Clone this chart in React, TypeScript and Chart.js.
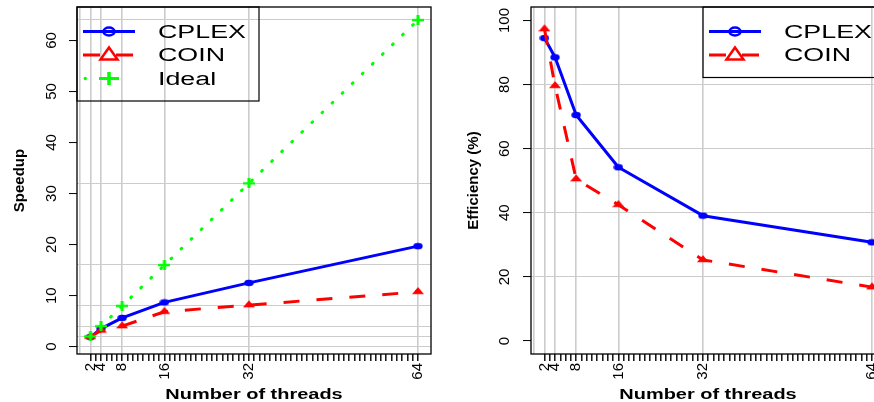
import React, { useEffect, useRef } from 'react';
import { Chart, registerables } from 'chart.js';

Chart.register(...registerables);

const FONT = "'Liberation Sans', Arial, Helvetica, sans-serif";
const BLUE = '#0000ff';
const RED = '#ff0000';
const GREEN = '#00ff00';
const GRID = '#cccccc';
const NONE = 'rgba(0,0,0,0)';

// ---- data ----
const threads = [2, 4, 8, 16, 32, 64];
const cplexSpeedup = [1.89, 3.54, 5.64, 8.68, 12.5, 19.7];
const coinSpeedup = [1.95, 3.18, 4.04, 6.85, 8.15, 10.75];
const idealSpeedup = [2, 4, 8, 16, 32, 64];
const cplexEfficiency = [94.5, 88.5, 70.5, 54.2, 39.1, 30.8];
const coinEfficiency = [97.3, 79.6, 50.5, 42.5, 25.3, 16.8];

// ---- axes ----
const xTickLabels = [2, 4, 8, 16, 32, 64];
const xMinorTicks = Array.from({ length: 63 }, (_, i) => i + 2);
const xGridLines = [0, 2, 4, 8, 16, 32, 64];
const speedupTickLabels = [0, 10, 20, 30, 40, 50, 60];
const speedupGridLines = [0, 2, 4, 8, 16, 32, 64];
const efficiencyTickLabels = [0, 20, 40, 60, 80, 100];
const efficiencyGridLines = [20, 40, 60, 80];
const seriesNames = ['CPLEX', 'COIN', 'Ideal'];

function toPoints(xs: number[], ys: number[]) {
  return xs.map((x, i) => ({ x, y: ys[i] }));
}

function uniqSorted(arrs: number[][]) {
  return Array.from(new Set(arrs.flat())).sort((a, b) => a - b);
}

function makeMarker(w: number, h: number, draw: (ctx: CanvasRenderingContext2D) => void) {
  const c = document.createElement('canvas');
  c.width = w;
  c.height = h;
  const ctx = c.getContext('2d') as CanvasRenderingContext2D;
  draw(ctx);
  return c;
}

function drawLegend(ctx: any, area: any, items: any[], anchor: string) {
  const W = 182;
  const ROW = 23.5;
  const h = (items.length + 1) * ROW;
  const left = anchor === 'left' ? area.left : area.right - W;
  const top = area.top;
  ctx.save();
  ctx.lineWidth = 1.2;
  ctx.strokeStyle = '#000';
  ctx.strokeRect(left, top, W, h);
  items.forEach((it: any, i: number) => {
    const y = top + 24.5 + ROW * i;
    const x0 = left + 6;
    const x1 = left + 58;
    const xm = left + 32;
    ctx.save();
    ctx.strokeStyle = it.color;
    ctx.fillStyle = it.color;
    ctx.lineWidth = 3;
    if (it.kind === 'circle') {
      ctx.beginPath();
      ctx.moveTo(x0, y);
      ctx.lineTo(x1, y);
      ctx.stroke();
      ctx.lineWidth = 2.5;
      ctx.beginPath();
      ctx.ellipse(xm, y, 5.5, 3.9, 0, 0, Math.PI * 2);
      ctx.stroke();
    } else if (it.kind === 'triangle') {
      ctx.setLineDash([17, 16]);
      ctx.beginPath();
      ctx.moveTo(x0, y);
      ctx.lineTo(x1, y);
      ctx.stroke();
      ctx.setLineDash([]);
      ctx.lineWidth = 2.5;
      ctx.beginPath();
      ctx.moveTo(xm, y - 7.5);
      ctx.lineTo(xm + 8.5, y + 4.5);
      ctx.lineTo(xm - 8.5, y + 4.5);
      ctx.closePath();
      ctx.stroke();
    } else {
      ctx.beginPath();
      ctx.arc(x0 + 2.3, y, 1.7, 0, Math.PI * 2);
      ctx.fill();
      ctx.beginPath();
      ctx.moveTo(xm - 10, y);
      ctx.lineTo(xm + 10, y);
      ctx.stroke();
      ctx.lineWidth = 3.5;
      ctx.beginPath();
      ctx.moveTo(xm, y - 6.5);
      ctx.lineTo(xm, y + 6.5);
      ctx.stroke();
    }
    ctx.fillStyle = '#000';
    ctx.font = `18px ${FONT}`;
    ctx.textAlign = 'left';
    ctx.textBaseline = 'alphabetic';
    ctx.translate(left + 81, y + 6.4);
    ctx.scale(1.49, 1);
    ctx.fillText(it.label, 0, 0);
    ctx.restore();
  });
  ctx.restore();
}

function framePlugin(items: any[], anchor: string, xTitle: string) {
  return {
    id: 'frame',
    afterDraw(chart: any) {
      const { ctx, chartArea: a } = chart;
      ctx.save();
      ctx.strokeStyle = '#000';
      ctx.lineWidth = 1.3;
      ctx.strokeRect(a.left, a.top, a.right - a.left, a.bottom - a.top);
      ctx.restore();
      drawLegend(ctx, a, items, anchor);
      ctx.save();
      ctx.fillStyle = '#000';
      ctx.font = `bold 15px ${FONT}`;
      ctx.textAlign = 'center';
      ctx.textBaseline = 'alphabetic';
      ctx.translate((a.left + a.right) / 2, 399);
      ctx.scale(1.33, 1);
      ctx.fillText(xTitle, 0, 0);
      ctx.restore();
    },
  };
}

function buildConfig(o: any) {
  const xAll = uniqSorted([xMinorTicks, xGridLines]);
  const yAll = uniqSorted([o.yLabels, o.yGrid]);
  return {
    type: 'line',
    data: { datasets: o.datasets },
    options: {
      responsive: false,
      animation: false,
      devicePixelRatio: 1,
      events: [],
      layout: { padding: { top: 7, right: 23, left: 0, bottom: 0 } },
      plugins: { legend: { display: false }, tooltip: { enabled: false } },
      scales: {
        x: {
          type: 'linear',
          min: -0.55,
          max: 66.47,
          afterBuildTicks: (s: any) => {
            s.ticks = xAll.map((v) => ({ value: v }));
          },
          afterFit: (s: any) => {
            s.height = 48;
            s.paddingLeft = 0;
            s.paddingRight = 0;
          },
          border: { display: false },
          grid: {
            color: (c: any) => (c.tick && xGridLines.includes(c.tick.value) ? GRID : NONE),
            lineWidth: 1.6,
            tickColor: (c: any) => (c.tick && c.tick.value >= 2 ? '#000' : NONE),
            tickLength: 7,
            tickWidth: 1.4,
          },
          ticks: {
            autoSkip: false,
            minRotation: 90,
            maxRotation: 90,
            padding: 2,
            color: '#000',
            font: { family: FONT, size: 15 },
            callback: (v: any) => (xTickLabels.includes(v) ? String(v) : ''),
          },
        },
        y: {
          type: 'linear',
          min: o.yMin,
          max: o.yMax,
          afterBuildTicks: (s: any) => {
            s.ticks = yAll.map((v) => ({ value: v }));
          },
          afterFit: (s: any) => {
            s.width = 77;
            s.paddingTop = 0;
            s.paddingBottom = 0;
          },
          border: { display: false },
          grid: {
            color: (c: any) => (c.tick && o.yGrid.includes(c.tick.value) ? GRID : NONE),
            lineWidth: 1.1,
            tickColor: (c: any) => (c.tick && o.yLabels.includes(c.tick.value) ? '#000' : NONE),
            tickLength: 8,
            tickWidth: 1,
          },
          ticks: {
            autoSkip: false,
            minRotation: 90,
            maxRotation: 90,
            crossAlign: 'center',
            padding: o.yPad,
            color: '#000',
            font: { family: FONT, size: 15 },
            callback: (v: any) => (o.yLabels.includes(v) ? String(v) : ''),
          },
          title: {
            display: true,
            text: o.yTitle,
            color: '#000',
            font: { family: FONT, size: 15, weight: 'bold' },
            padding: { top: 11, bottom: 0 },
          },
        },
      },
    },
    plugins: [framePlugin(o.legendItems, o.legendAnchor, 'Number of threads')],
  };
}

export default function App() {
  const leftRef = useRef<HTMLCanvasElement>(null);
  const rightRef = useRef<HTMLCanvasElement>(null);

  useEffect(() => {
    const circle = makeMarker(10, 8, (ctx) => {
      ctx.fillStyle = BLUE;
      ctx.beginPath();
      ctx.ellipse(5, 4, 4.7, 3.3, 0, 0, Math.PI * 2);
      ctx.fill();
    });
    const triangle = makeMarker(12, 10, (ctx) => {
      ctx.fillStyle = RED;
      ctx.beginPath();
      ctx.moveTo(6, 0.3);
      ctx.lineTo(12, 7.3);
      ctx.lineTo(0, 7.3);
      ctx.closePath();
      ctx.fill();
    });
    const plus = makeMarker(12, 10, (ctx) => {
      ctx.fillStyle = GREEN;
      ctx.fillRect(0, 3.8, 12, 2.4);
      ctx.fillRect(4.5, 0, 3, 10);
    });

    const lineStyle = (color: string, marker: any, order: number, extra: any) => ({
      borderColor: color,
      backgroundColor: color,
      borderWidth: 3,
      pointStyle: marker,
      pointRadius: 4,
      tension: 0,
      fill: false,
      order,
      ...extra,
    });

    const cplexStyle = lineStyle(BLUE, circle, 2, { borderJoinStyle: 'round', borderCapStyle: 'round' });
    const coinStyle = lineStyle(RED, triangle, 1, { borderDash: [16, 17] });
    const idealStyle = lineStyle(GREEN, plus, 0, { borderDash: [1, 13], borderCapStyle: 'round' });

    const left = new Chart(leftRef.current as HTMLCanvasElement, buildConfig({
      datasets: [
        { label: seriesNames[0], data: toPoints(threads, cplexSpeedup), ...cplexStyle },
        { label: seriesNames[1], data: toPoints(threads, coinSpeedup), ...coinStyle },
        { label: seriesNames[2], data: toPoints(threads, idealSpeedup), ...idealStyle },
      ],
      yMin: -1.43,
      yMax: 66.55,
      yLabels: speedupTickLabels,
      yGrid: speedupGridLines,
      yTitle: 'Speedup',
      yPad: 9,
      legendAnchor: 'left',
      legendItems: [
        { label: seriesNames[0], color: BLUE, kind: 'circle' },
        { label: seriesNames[1], color: RED, kind: 'triangle' },
        { label: seriesNames[2], color: GREEN, kind: 'plus' },
      ],
    }) as any);

    const right = new Chart(rightRef.current as HTMLCanvasElement, buildConfig({
      datasets: [
        { label: seriesNames[0], data: toPoints(threads, cplexEfficiency), ...cplexStyle },
        { label: seriesNames[1], data: toPoints(threads, coinEfficiency), ...coinStyle },
      ],
      yMin: -4.06,
      yMax: 104.2,
      yLabels: efficiencyTickLabels,
      yGrid: efficiencyGridLines,
      yTitle: 'Efficiency (%)',
      yPad: 5.5,
      legendAnchor: 'right',
      legendItems: [
        { label: seriesNames[0], color: BLUE, kind: 'circle' },
        { label: seriesNames[1], color: RED, kind: 'triangle' },
      ],
    }) as any);

    return () => {
      left.destroy();
      right.destroy();
    };
  }, []);

  return (
    <div style={{ position: 'absolute', left: 0, top: 0, width: 874, height: 402, overflow: 'hidden', background: '#fff' }}>
      <canvas ref={leftRef} width={454} height={402} style={{ position: 'absolute', left: 0, top: 0, width: 454, height: 402 }} />
      <canvas ref={rightRef} width={454} height={402} style={{ position: 'absolute', left: 454, top: 0, width: 454, height: 402 }} />
    </div>
  );
}
